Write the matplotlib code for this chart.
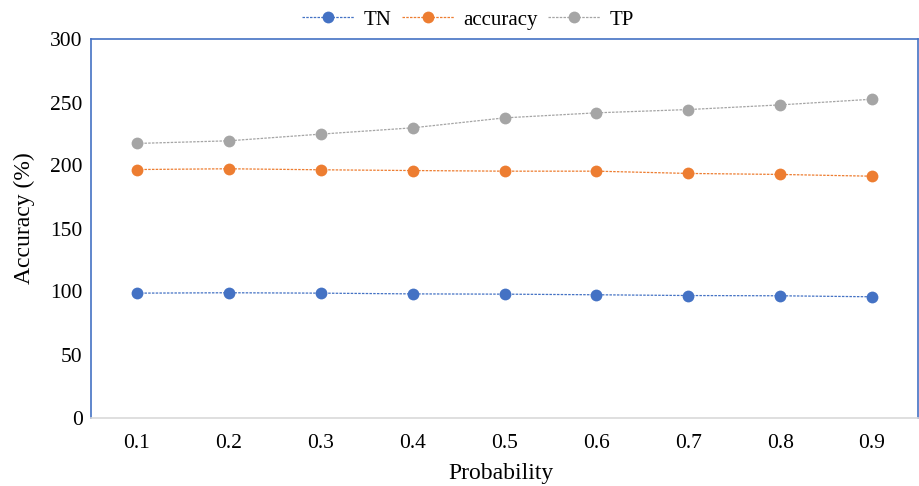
import matplotlib
matplotlib.use("Agg")
import matplotlib.pyplot as plt
import numpy as np

plt.rcParams['font.family'] = ['Liberation Serif', 'DejaVu Serif']

categories = ["0.1", "0.2", "0.3", "0.4", "0.5", "0.6", "0.7", "0.8", "0.9"]
tn = [98.7, 99.0, 98.7, 98.1, 97.9, 97.4, 96.8, 96.6, 95.8]
accuracy = [196.8, 197.4, 196.6, 196.0, 195.5, 195.5, 193.7, 192.9, 191.5]
tp = [217.5, 219.6, 224.9, 229.9, 237.8, 241.8, 244.4, 248.1, 252.6]
yticks = [0, 50, 100, 150, 200, 250, 300]

fig = plt.figure(figsize=(9.19, 4.86), dpi=100)
ax = fig.add_axes([91/919, 1-417.5/486, 827/919, 378/486])

x = np.arange(len(categories))
series = [("TN", tn, "#4472C4"), ("accuracy", accuracy, "#ED7D31"), ("TP", tp, "#A5A5A5")]
for name, vals, col in series:
    ax.plot(x, vals, linestyle=(0, (2, 1)), lw=0.9, color=col, marker='o',
            markersize=8.5, markeredgewidth=0, label=name)

ax.set_xlim(-0.5, len(categories)-0.5)
ax.set_ylim(0, 300)
ax.set_xticks(x)
ax.set_xticklabels(categories)
ax.set_yticks(yticks)
ax.tick_params(axis='both', length=0, labelsize=15.5, colors='black')
ax.tick_params(axis='x', pad=12)
ax.tick_params(axis='y', pad=6)
for s in ['left', 'top', 'right']:
    ax.spines[s].set_color('#4472C4')
    ax.spines[s].set_linewidth(1.2)
ax.spines['bottom'].set_color('#D9D9D9')
ax.spines['bottom'].set_linewidth(1.2)

ax.set_xlabel("Probability", fontsize=17)
ax.set_ylabel("Accuracy (%)", fontsize=17)
ax.xaxis.set_label_coords((501-91)/827, -(473-417.5)/378)
ax.yaxis.set_label_coords((24-91)/827, (417.5-218.5)/378)
ax.xaxis.label.set_va('center')
ax.yaxis.label.set_va('center')

leg = fig.legend(loc='center', bbox_to_anchor=(468/919, 1-20/486), ncol=3, frameon=False,
                 fontsize=15, handlelength=2.5, columnspacing=0.5, handletextpad=0.45)

fig.savefig("out.png", dpi=100)
